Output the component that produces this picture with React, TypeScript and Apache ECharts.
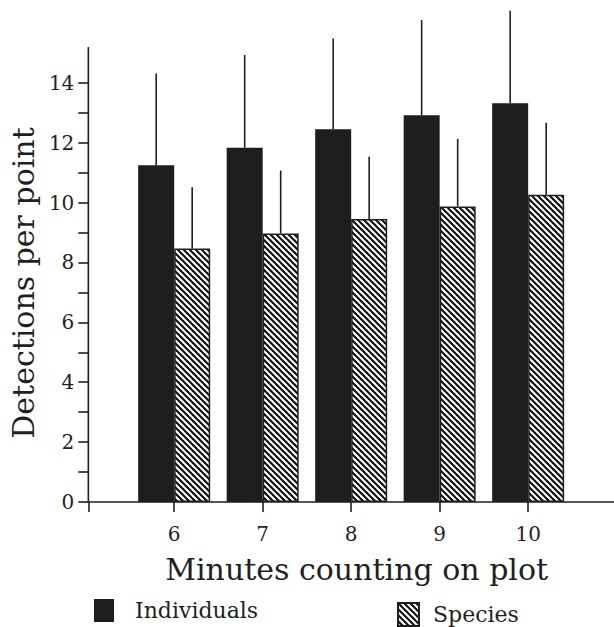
import React, { useEffect, useRef } from "react";
import * as echarts from "echarts";

// ---- data ----
const minutes = [6, 7, 8, 9, 10];
const individuals = [11.25, 11.83, 12.45, 12.92, 13.32];
const individualsSD = [3.06, 3.1, 3.03, 3.18, 3.09];
const species = [8.47, 8.97, 9.45, 9.87, 10.26];
const speciesSD = [2.04, 2.1, 2.08, 2.26, 2.41];
const yTickValues = [0, 1, 2, 3, 4, 5, 6, 7, 8, 9, 10, 11, 12, 13, 14];
const yLabelValues = [0, 2, 4, 6, 8, 10, 12, 14];
const xMin = 5.03;
const xMax = 10.97;
const yMax = 16.5;
const yAxisLineTop = 15.2;

const SERIF = '"DejaVu Serif", "Liberation Serif", serif';
const INK = "#1f1f1f";

function makeHatch(): HTMLCanvasElement {
  const T = 6;
  const c = document.createElement("canvas");
  c.width = T;
  c.height = T;
  const ctx = c.getContext("2d")!;
  ctx.fillStyle = "#ffffff";
  ctx.fillRect(0, 0, T, T);
  ctx.strokeStyle = "#111111";
  ctx.lineWidth = 2.1;
  for (let k = -1; k <= 1; k++) {
    ctx.beginPath();
    ctx.moveTo(k * T - 1, -1);
    ctx.lineTo(k * T + T + 1, T + 1);
    ctx.stroke();
  }
  return c;
}

function errRenderer(offset: number) {
  return (params: any, api: any) => {
    const x = api.value(0);
    const p1 = api.coord([x, api.value(1)]);
    const p2 = api.coord([x, api.value(2)]);
    return {
      type: "line",
      shape: { x1: p1[0] + offset, y1: p1[1], x2: p2[0] + offset, y2: p2[1] },
      style: { stroke: INK, lineWidth: 1.6 },
    };
  };
}

export default function App() {
  const ref = useRef<HTMLDivElement>(null);

  useEffect(() => {
    document.body.style.margin = "0";
    const chart = echarts.init(ref.current!, null, { renderer: "svg" });
    const hatch = { image: makeHatch(), repeat: "repeat" };
    const barW = 36;

    const option: any = {
      animation: false,
      backgroundColor: "#ffffff",
      grid: { left: 88, right: 0, top: 8, bottom: 125 },
      legend: [
        {
          data: ["Individuals"],
          left: 89,
          top: 594,
          icon: "rect",
          itemWidth: 20,
          itemHeight: 23,
          selectedMode: false,
          textStyle: { fontFamily: SERIF, fontSize: 22, color: INK, padding: [0, 0, 0, 16] },
        },
        {
          data: ["Species"],
          left: 392,
          top: 597,
          icon: "rect",
          itemWidth: 21,
          itemHeight: 23,
          selectedMode: false,
          textStyle: { fontFamily: SERIF, fontSize: 22, color: INK, padding: [0, 0, 0, 9] },
        },
      ],
      xAxis: {
        type: "value",
        min: xMin,
        max: xMax,
        splitLine: { show: false },
        axisLine: { show: true, onZero: false, lineStyle: { color: INK, width: 1.6 } },
        axisTick: {
          show: true,
          customValues: [xMin, ...minutes],
          length: 10,
          lineStyle: { color: INK, width: 1.6 },
        },
        axisLabel: {
          customValues: minutes,
          margin: 22,
          color: INK,
          fontFamily: SERIF,
          fontSize: 20,
        },
        name: "Minutes counting on plot",
        nameLocation: "middle",
        nameGap: 52,
        nameTextStyle: { fontFamily: SERIF, fontSize: 30, color: INK, padding: [0, 0, 0, 11] },
      },
      yAxis: {
        type: "value",
        min: 0,
        max: yMax,
        splitLine: { show: false },
        axisLine: { show: false },
        axisTick: {
          show: true,
          customValues: yTickValues,
          length: 10,
          lineStyle: { color: INK, width: 1.6 },
        },
        axisLabel: {
          customValues: yLabelValues,
          margin: 14,
          color: INK,
          fontFamily: SERIF,
          fontSize: 20,
        },
        name: "Detections per point",
        nameLocation: "middle",
        nameGap: 50,
        nameTextStyle: { fontFamily: SERIF, fontSize: 30, color: INK, padding: [0, 56, 0, 0] },
      },
      series: [
        {
          name: "Individuals",
          type: "bar",
          data: minutes.map((m, i) => [m, individuals[i]]),
          barWidth: barW,
          barGap: "0%",
          itemStyle: { color: "#1e1e1e" },
        },
        {
          name: "Species",
          type: "bar",
          data: minutes.map((m, i) => [m, species[i]]),
          barWidth: barW,
          barGap: "0%",
          itemStyle: { color: hatch, borderColor: INK, borderWidth: 1.5 },
        },
        {
          name: "Individuals SD",
          type: "custom",
          renderItem: errRenderer(-barW / 2),
          data: minutes.map((m, i) => [m, individuals[i], individuals[i] + individualsSD[i]]),
          encode: { x: 0, y: [1, 2] },
          clip: false,
          z: 3,
        },
        {
          name: "Species SD",
          type: "custom",
          renderItem: errRenderer(barW / 2),
          data: minutes.map((m, i) => [m, species[i], species[i] + speciesSD[i]]),
          encode: { x: 0, y: [1, 2] },
          clip: false,
          z: 3,
        },
        {
          name: "y axis line",
          type: "line",
          data: [
            [xMin, 0],
            [xMin, yAxisLineTop],
          ],
          symbol: "none",
          silent: true,
          clip: false,
          lineStyle: { color: INK, width: 1.6 },
          z: 4,
        },
      ],
    };

    chart.setOption(option);
    return () => chart.dispose();
  }, []);

  return <div ref={ref} style={{ width: 614, height: 627 }} />;
}
